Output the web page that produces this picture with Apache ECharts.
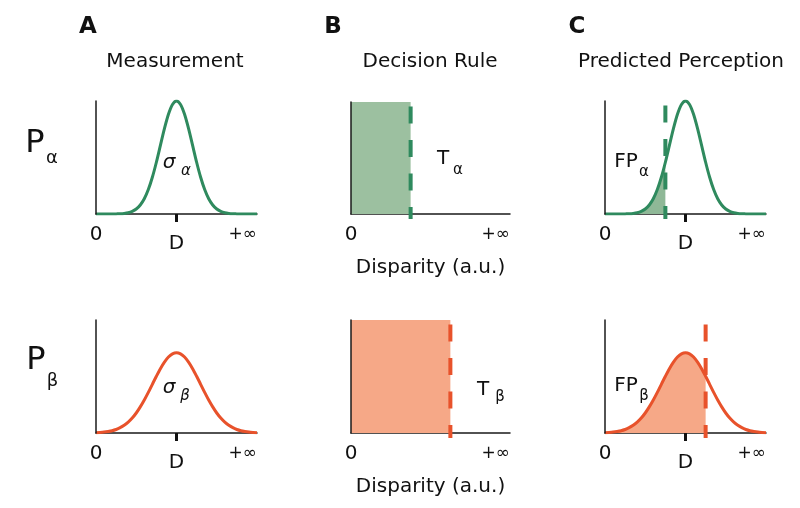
<!DOCTYPE html>
<html>
<head>
<meta charset="utf-8">
<script src="https://cdn.jsdelivr.net/npm/echarts@6/dist/echarts.min.js"></script>
<style>
html,body{margin:0;padding:0;background:#fff;}
#main{width:800px;height:508px;}
</style>
</head>
<body>
<div id="main"></div>
<script>
// ---- data ----
const disparity = [0,0.25,0.5,0.75,1,1.25,1.5,1.75,2,2.25,2.5,2.75,3,3.25,3.5,3.75,4,4.25,4.5,4.75,5,
  5.25,5.5,5.75,6,6.25,6.5,6.75,7,7.25,7.5,7.75,8,8.25,8.5,8.75,9,9.25,9.5,9.75,10];
const probAlpha = [0,0,0,0,0,0.001,0.002,0.005,0.011,0.023,0.044,0.080,0.135,0.216,0.325,0.458,0.607,0.755,0.882,0.969,1.0,
  0.969,0.882,0.755,0.607,0.458,0.325,0.216,0.135,0.080,0.044,0.023,0.011,0.005,0.002,0.001,0,0,0,0,0];
const probBeta = [0.003,0.005,0.008,0.013,0.020,0.031,0.047,0.068,0.096,0.132,0.177,0.231,0.292,0.359,0.431,0.502,0.569,0.627,0.672,0.700,0.710,
  0.700,0.672,0.627,0.569,0.502,0.431,0.359,0.292,0.231,0.177,0.132,0.096,0.068,0.047,0.031,0.020,0.013,0.008,0.005,0.003];
const trueDisparity = 5;        // "D"
const thresholdAlpha = 3.75;    // T_alpha
const thresholdBeta = 6.25;     // T_beta
const axisMax = 10;             // "+∞"
const ruleHeight = 1;

const GREEN = '#2f8a5e', GREEN_FILL = '#9cc0a0', GREEN_FILL_C = '#8fb897';
const ORANGE = '#e8522b', ORANGE_FILL = '#f6a887';
const FONT = 'DejaVu Sans';
const INK = '#111';

const pairs = (ys) => disparity.map((x, i) => [x, ys[i]]);
const upTo = (ys, t) => disparity.map((x, i) => [x, ys[i]]).filter(p => p[0] <= t + 1e-9);

const gridPos = [
  {left: 96, top: 101, width: 161, height: 113},
  {left: 351, top: 102, width: 159, height: 112},
  {left: 605, top: 101, width: 161, height: 113},
  {left: 96, top: 320, width: 161, height: 113},
  {left: 351, top: 320, width: 159, height: 113},
  {left: 605, top: 320, width: 161, height: 113}
];
const withD = [true, false, true, true, false, true];

const labelRich = {
  z: {fontSize: 20, fontFamily: FONT, color: INK},
  d: {fontSize: 20, fontFamily: FONT, color: INK, padding: [9, 0, 0, 0]},
  i: {fontSize: 17, fontFamily: FONT, color: INK, padding: [1, 0, 0, 0]}
};

const xAxes = gridPos.map((g, k) => ({
  gridIndex: k, type: 'value', min: 0, max: axisMax,
  axisLine: {show: true, onZero: false, lineStyle: {color: '#1a1a1a', width: 1.5}},
  splitLine: {show: false},
  axisTick: withD[k] ? {show: true, customValues: [trueDisparity], length: 8, lineStyle: {color: INK, width: 3}} : {show: false},
  axisLabel: {
    show: true,
    customValues: withD[k] ? [0, trueDisparity, axisMax] : [0, axisMax],
    margin: 11,
    alignMaxLabel: 'right',
    formatter: v => v === 0 ? '{z|0}' : (v === axisMax ? '{i|+∞}' : '{d|D}'),
    rich: labelRich
  },
  name: (k === 1 || k === 4) ? 'Disparity (a.u.)' : '',
  nameLocation: 'middle', nameGap: 44,
  nameTextStyle: {fontSize: 20, fontFamily: FONT, color: INK}
}));
const yAxes = gridPos.map((g, k) => ({
  gridIndex: k, type: 'value', min: 0, max: 1, z: 5,
  axisLine: {show: true, lineStyle: {color: '#1a1a1a', width: 1.5}},
  splitLine: {show: false}, axisTick: {show: false}, axisLabel: {show: false}
}));

function curve(k, ys, color) {
  return {type: 'line', xAxisIndex: k, yAxisIndex: k, data: pairs(ys), smooth: 0.3,
    showSymbol: false, lineStyle: {color, width: 3}, z: 4, silent: true};
}
function fillUnder(k, ys, t, color) {
  return {type: 'line', xAxisIndex: k, yAxisIndex: k, data: upTo(ys, t), smooth: 0.3,
    showSymbol: false, lineStyle: {width: 0, color}, areaStyle: {color, opacity: 1}, z: 2, silent: true};
}
function ruleFill(k, t, color) {
  return {type: 'line', xAxisIndex: k, yAxisIndex: k, data: [[0, ruleHeight], [t, ruleHeight]],
    showSymbol: false, lineStyle: {width: 0, color}, areaStyle: {color, opacity: 1}, z: 2, silent: true};
}
function dashed(k, t, color) {
  return {type: 'line', xAxisIndex: k, yAxisIndex: k, data: [[t, ruleHeight], [t, -0.045]],
    showSymbol: false, clip: false, z: 6, silent: true,
    lineStyle: {color, width: 4, type: [17, 16.5], dashOffset: 29, cap: 'butt'}};
}

const series = [
  curve(0, probAlpha, GREEN),
  ruleFill(1, thresholdAlpha, GREEN_FILL), dashed(1, thresholdAlpha, GREEN),
  fillUnder(2, probAlpha, thresholdAlpha, GREEN_FILL_C), curve(2, probAlpha, GREEN), dashed(2, thresholdAlpha, GREEN),
  curve(3, probBeta, ORANGE),
  ruleFill(4, thresholdBeta, ORANGE_FILL), dashed(4, thresholdBeta, ORANGE),
  fillUnder(5, probBeta, thresholdBeta, ORANGE_FILL), curve(5, probBeta, ORANGE), dashed(5, thresholdBeta, ORANGE)
];

function txt(s, x, y, size, opts) {
  return Object.assign({type: 'text', x, y, style: Object.assign({text: s, fontSize: size, fontFamily: FONT, fill: INK,
    align: 'center', verticalAlign: 'middle'}, opts || {})});
}
const graphics = [
  txt('A', 88, 27, 23, {fontWeight: 'bold'}),
  txt('B', 333, 27, 23, {fontWeight: 'bold'}),
  txt('C', 577, 27, 23, {fontWeight: 'bold'}),
  txt('Measurement', 175, 62, 20),
  txt('Decision Rule', 430, 62, 20),
  txt('Predicted Perception', 681, 62, 20),
  txt('P', 35, 144, 32), txt('α', 52, 158, 18),
  txt('P', 36, 361, 32), txt('β', 52.5, 381, 18),
  txt('σ', 169, 163, 20, {fontStyle: 'italic'}), txt('α', 186, 171, 15, {fontStyle: 'italic'}),
  txt('σ', 169, 388, 20, {fontStyle: 'italic'}), txt('β', 185, 396, 15, {fontStyle: 'italic'}),
  txt('T', 443, 159, 20), txt('α', 458, 170, 15),
  txt('T', 483, 390, 20), txt('β', 500, 397, 15),
  txt('FP', 626, 162, 20), txt('α', 644, 172, 15),
  txt('FP', 626, 386, 20), txt('β', 644, 396, 15)
];

const chart = echarts.init(document.getElementById('main'), null, {renderer: 'canvas'});
chart.setOption({
  animation: false,
  backgroundColor: '#fff',
  grid: gridPos.map(g => Object.assign({containLabel: false}, g)),
  xAxis: xAxes,
  yAxis: yAxes,
  series,
  graphic: graphics
});
</script>
</body>
</html>
